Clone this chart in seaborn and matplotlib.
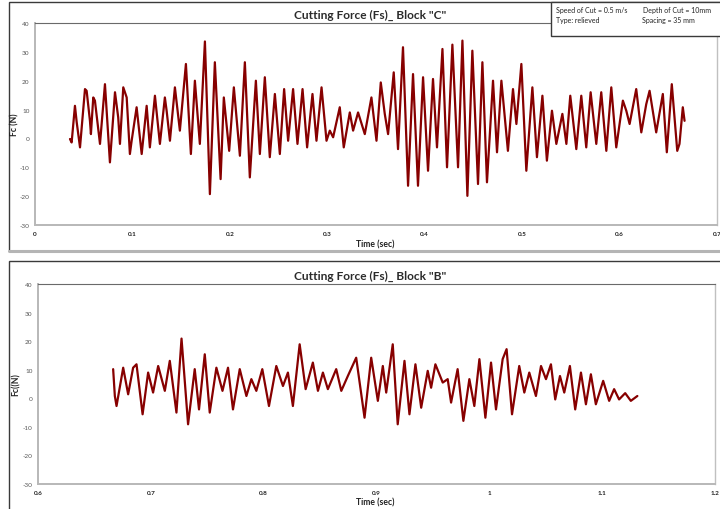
import matplotlib
matplotlib.use("Agg")
import matplotlib.pyplot as plt
import seaborn as sns
import pandas as pd
from matplotlib.patches import Rectangle
from matplotlib.lines import Line2D

# Block "C" cutting force record: time (s) and force (N) at successive turning points
time_c = [0.0359, 0.0376, 0.0410, 0.0428, 0.0462, 0.0513, 0.0530, 0.0564, 0.0574, 0.0598,
          0.0615, 0.0667, 0.0718, 0.0769, 0.0821, 0.0854, 0.0872, 0.0906, 0.0941, 0.0974,
          0.0992, 0.1043, 0.1095, 0.1146, 0.1179, 0.1231, 0.1282, 0.1333, 0.1351, 0.1385,
          0.1436, 0.1487, 0.1549, 0.1600, 0.1641, 0.1692, 0.1744, 0.1795, 0.1846, 0.1905,
          0.1938, 0.1993, 0.2041, 0.2103, 0.2154, 0.2205, 0.2267, 0.2308, 0.2359, 0.2410,
          0.2462, 0.2513, 0.2557, 0.2598, 0.2649, 0.2694, 0.2746, 0.2793, 0.2848, 0.2889,
          0.2941, 0.2992, 0.3026, 0.3060, 0.3128, 0.3169, 0.3231, 0.3265, 0.3316, 0.3385,
          0.3453, 0.3505, 0.3549, 0.3590, 0.3624, 0.3682, 0.3726, 0.3777, 0.3829, 0.3880,
          0.3931, 0.3983, 0.4034, 0.4085, 0.4126, 0.4182, 0.4229, 0.4284, 0.4342, 0.4387,
          0.4438, 0.4489, 0.4547, 0.4592, 0.4639, 0.4701, 0.4742, 0.4787, 0.4854, 0.4906,
          0.4941, 0.4992, 0.5043, 0.5105, 0.5152, 0.5208, 0.5254, 0.5306, 0.5351, 0.5413,
          0.5454, 0.5494, 0.5556, 0.5607, 0.5658, 0.5703, 0.5761, 0.5812, 0.5864, 0.5915,
          0.5966, 0.6034, 0.6069, 0.6103, 0.6171, 0.6223, 0.6274, 0.6308, 0.6376, 0.6444,
          0.6485, 0.6536, 0.6592, 0.6615, 0.6649, 0.6667]
force_c = [-0.2, -1.4, 11.3, 5.6, -3.1, 17.1, 16.5, 6.1, 1.5, 14.2,
           13.1, -1.9, 18.8, -8.3, 16.0, 7.3, -1.9, 17.7, 14.2, -5.4,
           -0.8, 10.8, -5.4, 11.3, -3.1, 14.8, -1.9, 14.2, 9.6, -0.8,
           17.7, 2.7, 25.8, -5.4, 20.0, -1.9, 33.6, -19.3, 26.4, -14.1,
           14.2, -4.3, 17.7, -6.0, 26.4, -13.5, 20.0, -5.4, 21.2, -6.5,
           15.4, -5.4, 17.1, -0.8, 17.1, -1.9, 17.1, -3.1, 15.4, -0.8,
           17.7, -0.8, 2.7, 0.4, 10.8, -3.1, 9.0, 2.7, 9.0, 1.5,
           14.2, -0.8, 19.4, 8.5, 1.5, 22.9, -3.7, 31.6, -16.4, 22.3,
           -16.4, 21.2, -11.2, 20.6, -3.1, 31.0, -10.0, 32.5, -10.0, 33.9,
           -19.9, 30.4, -15.8, 26.4, -15.2, 20.0, -4.8, 20.0, -4.3, 17.1,
           5.0, 25.8, -11.2, 17.7, -6.5, 14.8, -7.7, 9.6, -1.9, 8.5,
           -1.9, 14.8, -3.7, 14.8, -3.1, 16.0, -1.9, 16.0, -4.3, 17.7,
           -3.1, 13.1, 9.6, 5.0, 17.1, 2.1, 11.9, 16.5, 2.1, 15.4,
           -4.8, 18.8, -4.3, -1.9, 10.8, 6.1]

# Block "B" cutting force record
time_b = [0.6666, 0.6681, 0.6696, 0.6755, 0.6799, 0.6843, 0.6873, 0.6927, 0.6976, 0.7020,
          0.7065, 0.7124, 0.7168, 0.7227, 0.7272, 0.7330, 0.7389, 0.7427, 0.7478, 0.7522,
          0.7581, 0.7635, 0.7684, 0.7728, 0.7788, 0.7847, 0.7891, 0.7935, 0.7988, 0.8047,
          0.8112, 0.8171, 0.8215, 0.8259, 0.8319, 0.8372, 0.8436, 0.8481, 0.8525, 0.8569,
          0.8643, 0.8688, 0.8746, 0.8820, 0.8894, 0.8953, 0.9012, 0.9056, 0.9086, 0.9144,
          0.9188, 0.9248, 0.9292, 0.9345, 0.9396, 0.9454, 0.9484, 0.9522, 0.9587, 0.9631,
          0.9661, 0.9719, 0.9770, 0.9823, 0.9867, 0.9912, 0.9965, 1.0015, 1.0059, 1.0118,
          1.0153, 1.0201, 1.0265, 1.0310, 1.0354, 1.0413, 1.0458, 1.0502, 1.0546, 1.0584,
          1.0626, 1.0664, 1.0714, 1.0761, 1.0812, 1.0856, 1.0900, 1.0944, 1.1009, 1.1062,
          1.1106, 1.1150, 1.1204, 1.1254, 1.1312]
force_b = [10.2, 0.8, -2.7, 10.7, 1.4, 10.7, 11.9, -5.6, 9.0, 2.0,
           11.3, 2.6, 13.1, -5.0, 20.9, -9.1, 10.2, -3.9, 15.4, -5.0,
           10.7, 2.6, 10.7, -3.9, 10.2, 0.8, 6.7, 2.6, 10.2, -2.7,
           11.3, 4.3, 9.0, -2.7, 18.9, 3.2, 12.5, 2.6, 9.0, 3.2,
           10.2, 2.6, 7.8, 14.2, -6.8, 14.2, -0.9, 11.3, 2.0, 18.9,
           -9.1, 13.1, -5.6, 11.9, -3.3, 9.6, 3.7, 11.9, 5.5, 6.7,
           -1.5, 10.2, -7.9, 6.7, -2.7, 13.7, -6.8, 12.5, -3.9, 13.7,
           17.2, -5.6, 11.3, 2.0, 9.0, 0.8, 11.3, 6.7, 11.9, -0.4,
           7.8, 2.0, 11.3, -3.9, 9.0, -2.1, 8.4, -2.1, 6.1, -0.9,
           3.2, -0.4, 1.8, -0.9, 0.8]

yticks = [-30, -20, -10, 0, 10, 20, 30, 40]
xticks_c = [0, 0.1, 0.2, 0.3, 0.4, 0.5, 0.6, 0.7]
xlabels_c = ["0", "0.1", "0.2", "0.3", "0.4", "0.5", "0.6", "0.7"]
xticks_b = [0.6, 0.7, 0.8, 0.9, 1.0, 1.1, 1.2]
xlabels_b = ["0.6", "0.7", "0.8", "0.9", "1", "1.1", "1.2"]

sns.set_theme(style="white")
plt.rcParams["font.family"] = ["Lato", "DejaVu Sans"]

W, H = 720, 510
fig = plt.figure(figsize=(W / 100, H / 100), dpi=100)
fig.patch.set_facecolor("white")


def fx(px):
    return px / W


def fy(py):
    return 1 - py / H


# panel frames
fig.add_artist(Rectangle((fx(9), fy(252)), fx(730) - fx(9), fy(3) - fy(252),
                         transform=fig.transFigure, fill=False, edgecolor="#3a3a3a", lw=1.0))
fig.add_artist(Line2D([fx(9), fx(720)], [fy(252), fy(252)], transform=fig.transFigure,
                      color="#b5b5b5", lw=2.2))
fig.add_artist(Rectangle((fx(9), fy(530)), fx(730) - fx(9), fy(262) - fy(530),
                         transform=fig.transFigure, fill=False, edgecolor="#3a3a3a", lw=1.0))

line_color = "#870000"


def make_panel(rect_px, t, f, xlim, xticks, xlabels, title, ylabel, title_y, xlabel_y, ylabel_x):
    l, t_, r, b = rect_px
    ax = fig.add_axes([fx(l), fy(b), fx(r) - fx(l), fy(t_) - fy(b)])
    df = pd.DataFrame({"Time": t, "Force": f})
    sns.lineplot(data=df, x="Time", y="Force", ax=ax, color=line_color, lw=1.6,
                 estimator=None, sort=False, solid_joinstyle="round", solid_capstyle="round")
    ax.set_xlim(*xlim)
    ax.set_ylim(-30, 40)
    ax.set_xticks(xticks)
    ax.set_xticklabels(xlabels, fontsize=4.6, fontweight="bold", color="#222222")
    ax.set_yticks(yticks)
    ax.set_yticklabels([str(v) for v in yticks], fontsize=4.6, color="#555555")
    ax.tick_params(length=0, pad=4)
    ax.set_xlabel("")
    ax.set_ylabel("")
    for side in ["left", "bottom"]:
        ax.spines[side].set_color("#b8b8b8")
        ax.spines[side].set_linewidth(1.4)
    ax.spines["top"].set_color("#6a6a6a")
    ax.spines["top"].set_linewidth(0.8)
    ax.spines["right"].set_color("#c0c0c0")
    ax.spines["right"].set_linewidth(1.0)
    ax.grid(False)
    fig.text(fx(370), fy(title_y), title, ha="center", va="center",
             fontsize=8.6, fontweight="bold", color="#2b2b2b")
    fig.text(fx(375), fy(xlabel_y), "Time (sec)", ha="center", va="center",
             fontsize=6.2, fontweight="bold", color="#222222")
    fig.text(fx(ylabel_x), fy((t_ + b) / 2), ylabel, ha="center", va="center",
             rotation=90, fontsize=6.2, fontweight="bold", color="#222222")
    return ax


make_panel((35, 24, 717, 226), time_c, force_c, (0, 0.7), xticks_c, xlabels_c,
           'Cutting Force (Fs)_ Block "C"', "Fc (N)", 15, 245, 15)
make_panel((38, 285, 715, 485), time_b, force_b, (0.6, 1.2), xticks_b, xlabels_b,
           'Cutting Force (Fs)_ Block "B"', "Fc((N)", 276, 503, 16)

# test-condition box
fig.add_artist(Rectangle((fx(551), fy(37)), fx(740) - fx(551), fy(3) - fy(37),
                         transform=fig.transFigure, facecolor="white",
                         edgecolor="#3a3a3a", lw=1.0, zorder=5))
box_kw = dict(fontsize=5.0, color="#222222", va="center", ha="left", zorder=6)
fig.text(fx(556), fy(10), "Speed of Cut = 0.5 m/s", **box_kw)
fig.text(fx(643), fy(10), "Depth of Cut = 10mm", **box_kw)
fig.text(fx(556), fy(21), "Type: relieved", **box_kw)
fig.text(fx(642), fy(21), "Spacing = 35 mm", **box_kw)

fig.savefig("out.png", dpi=100, facecolor="white")
